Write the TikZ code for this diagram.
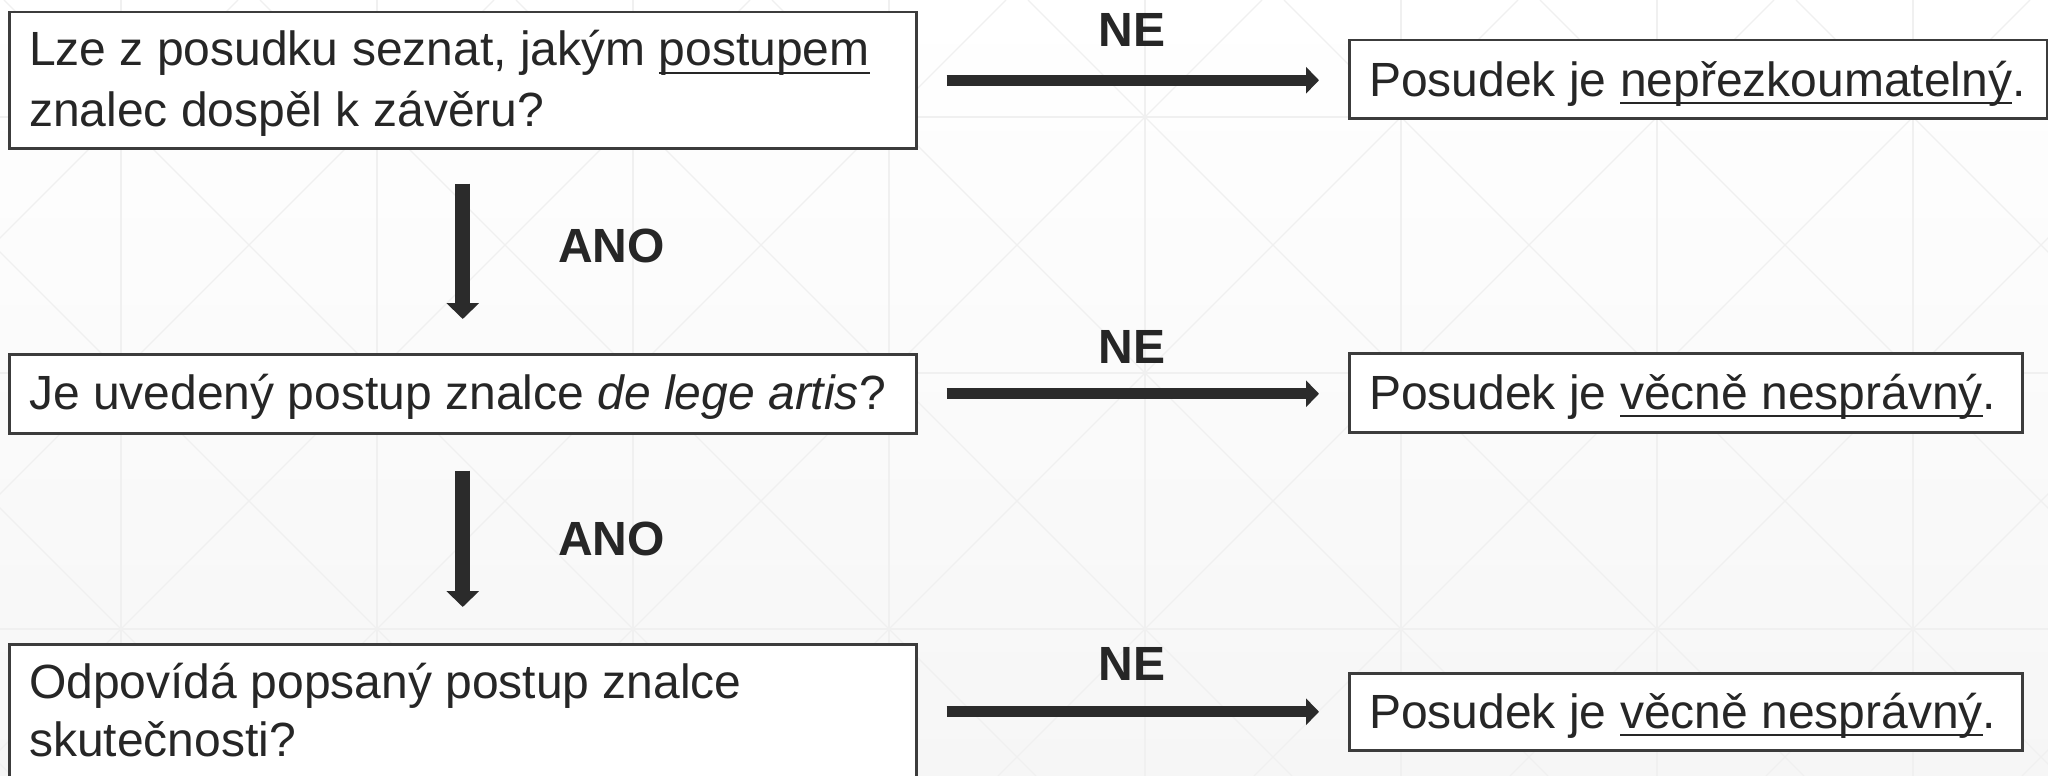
\documentclass[tikz,border=0pt]{standalone}
\usepackage{fontspec}
\setmainfont{Liberation Sans}
\usetikzlibrary{arrows.meta}
\definecolor{ink}{HTML}{262626}
\definecolor{arr}{HTML}{2B2B2B}
\definecolor{frame}{HTML}{3C3C3C}
\definecolor{gridc}{HTML}{F0F0F0}
\newcommand\myul[1]{\setbox0\hbox{#1}\rlap{\rule[-8pt]{\wd0}{2pt}}\box0}
\tikzset{
  box/.style={draw=frame, line width=2.5pt, fill=white, inner sep=0pt, anchor=north west},
  txt/.style={anchor=base west, inner sep=0pt, text=ink, font=\fontsize{48}{60}\selectfont},
  lbl/.style={inner sep=0pt, text=ink, font=\fontsize{48}{60}\selectfont\bfseries},
  gridline/.style={draw=gridc, line width=1.2pt},
  harrow/.style={draw=arr, line width=11pt, -{Triangle[length=13pt,width=26pt]}},
  varrow/.style={draw=arr, line width=15pt, -{Triangle[length=16pt,width=32pt]}}
}
\begin{document}
\begin{tikzpicture}[x=1pt,y=-1pt]
\useasboundingbox (0,0) rectangle (2048,776);
\shade[top color=white,bottom color=gray!7] (0,0) rectangle (2048,776);
\begin{scope}
\clip (0,0) rectangle (2048,776);
\foreach \x in {121,377,...,1913} \draw[gridline] (\x,0) -- (\x,776);
\foreach \y in {117,373,629} \draw[gridline] (0,\y) -- (2048,\y);
\foreach \k in {-4,...,8} {\pgfmathsetmacro\c{4+256*\k} \draw[gridline] (\c,0) -- ({\c+776},776);}
\foreach \k in {-1,...,11} {\pgfmathsetmacro\d{238+256*\k} \draw[gridline] (\d,0) -- ({\d-776},776);}
\end{scope}

\node[box, minimum width=907pt, minimum height=136pt] (q1) at (8,11) {};
\node[box, minimum width=907pt, minimum height=79pt] (q2) at (8,353) {};
\node[box, minimum width=907pt, minimum height=150pt] (q3) at (8,643) {};
\node[box, minimum width=698pt, minimum height=78pt] (r1) at (1348,39) {};
\node[box, minimum width=673pt, minimum height=79pt] (r2) at (1348,352) {};
\node[box, minimum width=673pt, minimum height=77pt] (r3) at (1348,672) {};

\node[txt] (q1a) at (29,66) {Lze z posudku seznat, jakým \myul{postupem}};
\node[txt] (q1b) at (29,126) {znalec dospěl k závěru?};
\node[txt] (q2t) at (29,409) {Je uvedený postup znalce \textit{de lege artis}?};
\node[txt] (q3a) at (29,698) {Odpovídá popsaný postup znalce};
\node[txt] (q3b) at (29,756) {skutečnosti?};
\node[txt] (r1t) at (1369,96) {Posudek je \myul{nepřezkoumatelný}.};
\node[txt] (r2t) at (1369,409) {Posudek je \myul{věcně nesprávný}.};
\node[txt] (r3t) at (1369,728) {Posudek je \myul{věcně nesprávný}.};

\node[lbl, anchor=base] (ne1) at (1132,47) {NE};
\node[lbl, anchor=base] (ne2) at (1132,363) {NE};
\node[lbl, anchor=base] (ne3) at (1132,680) {NE};
\node[lbl, anchor=base west] (ano1) at (558,262) {ANO};
\node[lbl, anchor=base west] (ano2) at (558,555) {ANO};

\draw[harrow, shorten <=29pt, shorten >=29pt] (q1.east) -- (q1.east -| r1.west);
\draw[harrow, shorten <=29pt, shorten >=29pt] (q2.east) -- (q2.east -| r2.west);
\draw[harrow, shorten <=29pt, shorten >=29pt] (q3.east |- r3.west) -- (r3.west);
\draw[varrow, shorten <=34pt, shorten >=34pt] (q1.south) -- (q2.north);
\draw[varrow, shorten <=36pt, shorten >=36pt] (q2.south) -- (q3.north);
\end{tikzpicture}
\end{document}
